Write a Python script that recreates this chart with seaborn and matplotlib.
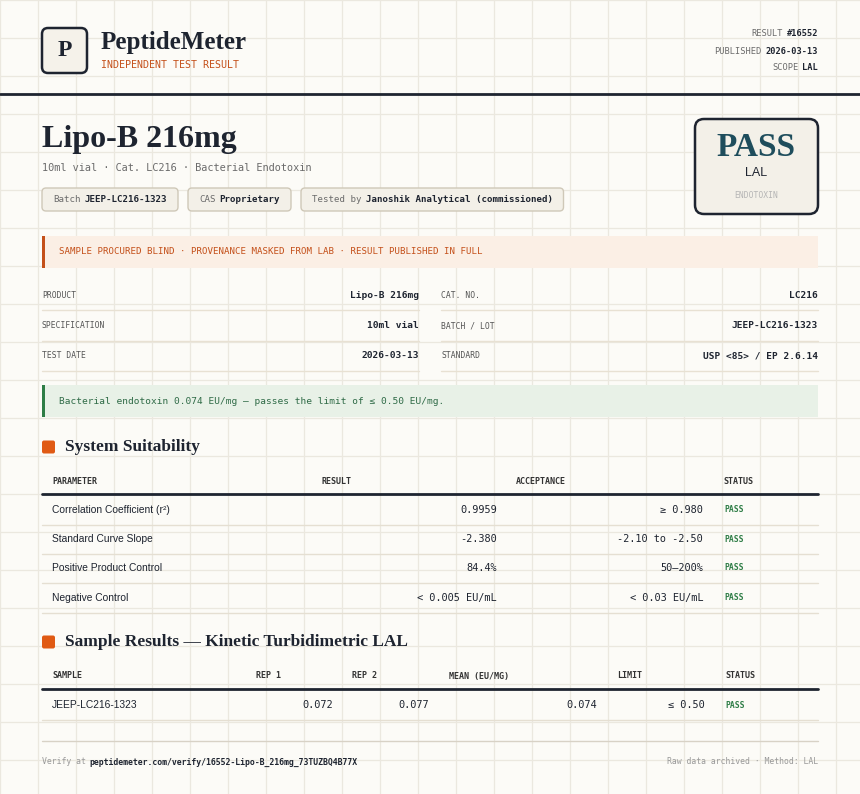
import matplotlib
matplotlib.use("Agg")
import matplotlib.pyplot as plt
import seaborn as sns
from matplotlib.patches import FancyBboxPatch, Rectangle

# ---- data ----
header_meta = [("RESULT", "#16552"), ("PUBLISHED", "2026-03-13"), ("SCOPE", "LAL")]
product_name = "Lipo-B 216mg"
subtitle = "10ml vial · Cat. LC216 · Bacterial Endotoxin"
pills = [("Batch", "JEEP-LC216-1323"), ("CAS", "Proprietary"), ("Tested by", "Janoshik Analytical (commissioned)")]
banner = "SAMPLE PROCURED BLIND · PROVENANCE MASKED FROM LAB · RESULT PUBLISHED IN FULL"
info_left = [("PRODUCT", "Lipo-B 216mg"), ("SPECIFICATION", "10ml vial"), ("TEST DATE", "2026-03-13")]
info_right = [("CAT. NO.", "LC216"), ("BATCH / LOT", "JEEP-LC216-1323"), ("STANDARD", "USP <85> / EP 2.6.14")]
note = "Bacterial endotoxin 0.074 EU/mg — passes the limit of ≤ 0.50 EU/mg."

suit_params = ["Correlation Coefficient (r²)", "Standard Curve Slope", "Positive Product Control", "Negative Control"]
suit_results = ["0.9959", "-2.380", "84.4%", "< 0.005 EU/mL"]
suit_accept = ["≥ 0.980", "-2.10 to -2.50", "50–200%", "< 0.03 EU/mL"]
suit_status = ["PASS", "PASS", "PASS", "PASS"]

samples = ["JEEP-LC216-1323"]
rep1 = ["0.072"]
rep2 = ["0.077"]
means = ["0.074"]
limits = ["≤ 0.50"]
sample_status = ["PASS"]

# ---- style ----
sns.set_theme(style="white")
SERIF = ["Liberation Serif", "DejaVu Serif"]
MONO = ["DejaVu Sans Mono"]
SANS = ["Liberation Sans Narrow", "Liberation Sans", "DejaVu Sans"]
DARK = "#1e2430"
GRAY = "#6b6b6b"
ORANGE = "#c4501a"
GREEN = "#2e7d46"
BG = "#fcfbf7"

fig = plt.figure(figsize=(8.6, 7.94), dpi=100, facecolor=BG)
ax = fig.add_axes([0, 0, 1, 1])
ax.set_xlim(0, 860)
ax.set_ylim(794, 0)
ax.axis("off")
ax.set_facecolor(BG)
fig.canvas.draw()
R = fig.canvas.get_renderer()

for gx in range(0, 861, 38):
    ax.axvline(gx, color="#ebe8df", lw=0.9, zorder=0)
for gy in range(0, 795, 38):
    ax.axhline(gy, color="#ebe8df", lw=0.9, zorder=0)


def txt(x, y, s, **kw):
    kw.setdefault("va", "center")
    return ax.text(x, y, s, **kw)


def width(t):
    return t.get_window_extent(R).width


def seq(x, y, parts, gap=4):
    for s, kw in parts:
        t = txt(x, y, s, **kw)
        x += width(t) + gap
    return x


def rseq(x, y, label, value, lkw, vkw, gap=4):
    t = txt(x, y, value, ha="right", **vkw)
    txt(x - width(t) - gap, y, label, ha="right", **lkw)


def rbox(x0, y0, x1, y1, fc, ec, lw=1, r=4):
    ax.add_patch(FancyBboxPatch((x0, y0), x1 - x0, y1 - y0, boxstyle=f"round,pad=0,rounding_size={r}",
                                fc=fc, ec=ec, lw=lw, zorder=2))


# header
rbox(42, 28, 87, 73, "#f5f2ea", DARK, lw=1.8, r=6)
txt(65, 51, "P", family=SERIF, fontsize=17, color=DARK, ha="center", fontweight="bold", zorder=3)
txt(101, 42, "PeptideMeter", family=SERIF, fontsize=18, color=DARK, fontweight="bold")
txt(101, 65, "INDEPENDENT TEST RESULT", family=MONO, fontsize=7.2, color=ORANGE)
for (lab, val), y in zip(header_meta, [34, 51, 67]):
    rseq(818, y, lab, val, dict(family=MONO, fontsize=6.2, color=GRAY),
         dict(family=MONO, fontsize=6.2, color=DARK, fontweight="bold"))
ax.plot([0, 860], [94, 94], color=DARK, lw=2)

# title block
txt(42, 139, product_name, family=SERIF, fontsize=23, color=DARK, fontweight="bold")
txt(42, 168, subtitle, family=MONO, fontsize=7.4, color=GRAY)
px = 42
for lab, val in pills:
    t1 = txt(px + 11, 199, lab, family=MONO, fontsize=6.6, color=GRAY, zorder=3)
    t2 = txt(px + 11 + width(t1) + 4, 199, val, family=MONO, fontsize=6.6, color=DARK, fontweight="bold", zorder=3)
    w = 11 + width(t1) + 4 + width(t2) + 11
    rbox(px, 188, px + w, 211, "#f3f0e8", "#cfc8b8", lw=1)
    px += w + 10

rbox(695, 119, 818, 214, "#f3f0e8", DARK, lw=1.8, r=9)
txt(756, 148, "PASS", family=SERIF, fontsize=24, color="#1e4d5c", fontweight="bold", ha="center", zorder=3)
txt(756, 173, "LAL", family=SANS, fontsize=9, color=DARK, ha="center", zorder=3)
txt(756, 195, "ENDOTOXIN", family=MONO, fontsize=5.8, color="#b5b5b5", ha="center", zorder=3)

# banner
ax.add_patch(Rectangle((42, 236), 776, 32, fc="#fbefe5", ec="none", zorder=1))
ax.add_patch(Rectangle((42, 236), 3, 32, fc=ORANGE, ec="none", zorder=2))
txt(59, 252, banner, family=MONO, fontsize=6.6, color=ORANGE)

# info grid
for i, y in enumerate([295, 326, 356]):
    for (lab, val), x0, x1 in [(info_left[i], 42, 419), (info_right[i], 441, 818)]:
        txt(x0, y, lab, family=MONO, fontsize=5.8, color="#555555")
        txt(x1, y, val, family=MONO, fontsize=6.8, color=DARK, fontweight="bold", ha="right")
        ax.plot([x0, x1], [y + 15, y + 15], color="#e8e1d3", lw=1)

# note
ax.add_patch(Rectangle((42, 385), 776, 32, fc="#e8f1e7", ec="none", zorder=1))
ax.add_patch(Rectangle((42, 385), 3, 32, fc=GREEN, ec="none", zorder=2))
txt(59, 401, note, family=MONO, fontsize=6.8, color="#2f6b47")


def section(y, title):
    ax.add_patch(FancyBboxPatch((42, y - 6.5), 13, 13, boxstyle="round,pad=0,rounding_size=2",
                                fc="#e05a14", ec="none"))
    txt(65, y, title, family=SERIF, fontsize=12.5, color=DARK, fontweight="bold")


def header_row(y, labels, xs):
    for lab, x in zip(labels, xs):
        txt(x, y, lab, family=MONO, fontsize=6, color="#333333", fontweight="bold")
    ax.plot([42, 818], [y + 13, y + 13], color=DARK, lw=2)


# system suitability
section(447, "System Suitability")
header_row(481, ["PARAMETER", "RESULT", "ACCEPTANCE", "STATUS"], [52, 321, 516, 723])
for i, y in enumerate([510, 539, 568, 598]):
    txt(52, y, suit_params[i], family=SANS, fontsize=7.4, color=DARK)
    txt(497, y, suit_results[i], family=MONO, fontsize=7.4, color=DARK, ha="right")
    txt(703, y, suit_accept[i], family=MONO, fontsize=7.4, color=DARK, ha="right")
    txt(724, y, suit_status[i], family=MONO, fontsize=5.8, color=GREEN, fontweight="bold")
    ax.plot([42, 818], [y + 14.5, y + 14.5], color="#e5dfd2", lw=1)

# sample results
section(642, "Sample Results — Kinetic Turbidimetric LAL")
header_row(676, ["SAMPLE", "REP 1", "REP 2", "MEAN (EU/MG)", "LIMIT", "STATUS"], [52, 256, 352, 449, 617, 725])
for i, y in enumerate([705]):
    txt(52, y, samples[i], family=SANS, fontsize=7.4, color=DARK)
    txt(333, y, rep1[i], family=MONO, fontsize=7.4, color=DARK, ha="right")
    txt(429, y, rep2[i], family=MONO, fontsize=7.4, color=DARK, ha="right")
    txt(597, y, means[i], family=MONO, fontsize=7.4, color=DARK, ha="right")
    txt(705, y, limits[i], family=MONO, fontsize=7.4, color=DARK, ha="right")
    txt(725, y, sample_status[i], family=MONO, fontsize=5.8, color=GREEN, fontweight="bold")
    ax.plot([42, 818], [y + 15, y + 15], color="#e5dfd2", lw=1)

# footer
ax.plot([42, 818], [741, 741], color="#d8d2c6", lw=1)
seq(42, 762, [("Verify at", dict(family=MONO, fontsize=5.9, color="#999999")),
              ("peptidemeter.com/verify/16552-Lipo-B_216mg_73TUZBQ4B77X",
               dict(family=MONO, fontsize=5.9, color=DARK, fontweight="bold"))])
txt(818, 762, "Raw data archived · Method: LAL", family=MONO, fontsize=5.9, color="#999999", ha="right")

fig.savefig("out.png", dpi=100, facecolor=BG)
